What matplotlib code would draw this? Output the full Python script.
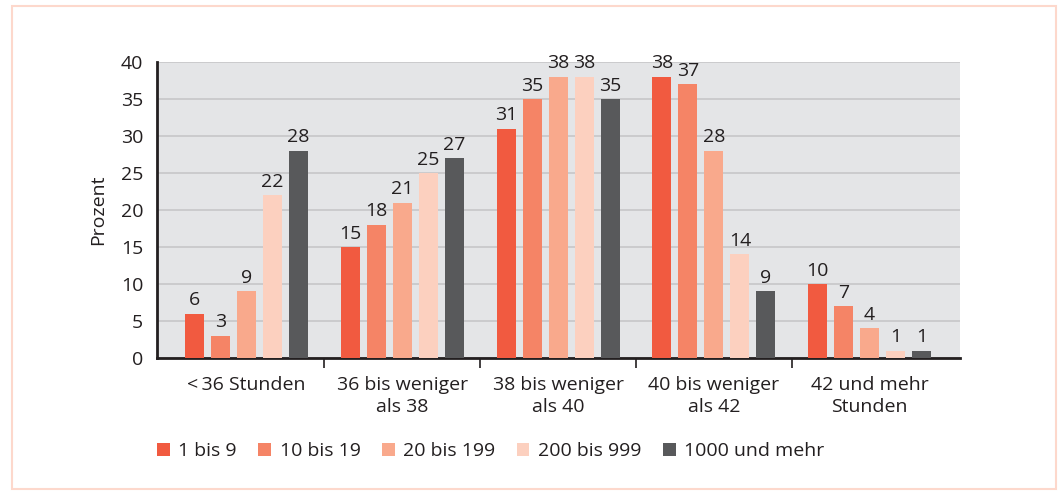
import matplotlib.pyplot as plt
from matplotlib.patches import Rectangle
import numpy as np

plt.rcParams['font.family'] = ['Open Sans', 'DejaVu Sans']

groups = ["<\u200936 Stunden", "36 bis weniger\nals 38", "38 bis weniger\nals 40",
          "40 bis weniger\nals 42", "42 und mehr\nStunden"]
series_names = ["1 bis 9", "10 bis 19", "20 bis 199", "200 bis 999", "1000 und mehr"]
v_1_9 = [6, 15, 31, 38, 10]
v_10_19 = [3, 18, 35, 37, 7]
v_20_199 = [9, 21, 38, 28, 4]
v_200_999 = [22, 25, 38, 14, 1]
v_1000 = [28, 27, 35, 9, 1]
series_values = [v_1_9, v_10_19, v_20_199, v_200_999, v_1000]
colors = ["#f15a40", "#f58466", "#f9a98c", "#fcd0bf", "#58595b"]
y_ticks = [0, 5, 10, 15, 20, 25, 30, 35, 40]

FS = 14
TXT = "#231f20"

fig = plt.figure(figsize=(10.58, 4.91), dpi=100)
fig.patches.append(Rectangle((12 / 1058, 2 / 491), 1044 / 1058, 483 / 491,
                             transform=fig.transFigure, fill=False,
                             edgecolor="#fdd8cc", linewidth=1.5))

ax = fig.add_axes([157 / 1058, 1 - 358 / 491, 803 / 1058, 296 / 491])
ax.set_facecolor("#e4e5e7")

x = np.arange(len(groups))
pitch = 0.167
width = 0.122
for i, (name, vals, c) in enumerate(zip(series_names, series_values, colors)):
    pos = x + (i - 2) * pitch
    ax.bar(pos, vals, width=width, color=c, label=name, zorder=3)
    for p, v in zip(pos, vals):
        ax.text(p, v + 0.6, str(v), ha="center", va="bottom", fontsize=FS,
                color=TXT, zorder=4)

ax.set_ylim(0, 40)
ax.set_xlim(-0.575, 4.58)
ax.set_yticks(y_ticks)
ax.yaxis.grid(True, color="#c6c6c8", linewidth=1.2, zorder=1)
ax.tick_params(axis="y", length=0, pad=10, labelsize=FS, labelcolor=TXT)

ax.set_xticks([0.5, 1.5, 2.5, 3.5])
ax.set_xticklabels([])
ax.tick_params(axis="x", which="major", length=7, width=1.2, color=TXT, direction="out")
ax.set_xticks(x, minor=True)
ax.set_xticklabels(groups, minor=True, fontsize=FS, color=TXT, linespacing=1.3)
ax.tick_params(axis="x", which="minor", length=0, pad=13)

for s in ["top", "right"]:
    ax.spines[s].set_visible(False)
for s in ["left", "bottom"]:
    ax.spines[s].set_linewidth(2)
    ax.spines[s].set_color(TXT)

ax.set_ylabel("Prozent", fontsize=FS, color=TXT, labelpad=10)

fig.legend(loc="center left", bbox_to_anchor=(157 / 1058, 1 - 451 / 491), ncol=5,
           frameon=False, fontsize=FS, handlelength=0.65, handleheight=0.65,
           handletextpad=0.45, columnspacing=1.1, borderpad=0, borderaxespad=0,
           labelcolor=TXT)

fig.savefig("out.png", dpi=100)
